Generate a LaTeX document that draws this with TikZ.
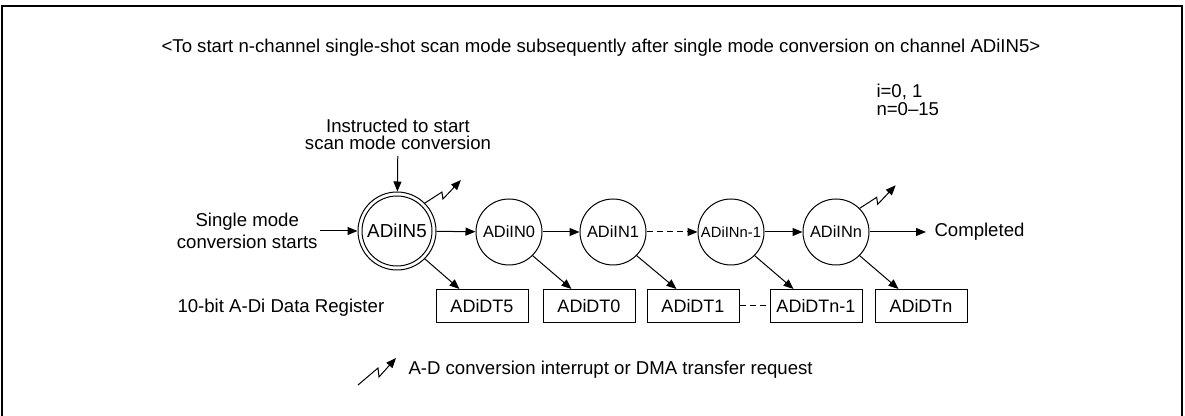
\documentclass[tikz,border=0pt]{standalone}
\usepackage{fontspec}
\setmainfont{Liberation Sans}
\usetikzlibrary{arrows.meta}

\tikzset{
  stage/.style={circle, draw, minimum size=33pt, inner sep=0pt, font=\fontsize{8.2}{9}\selectfont},
  ring/.style={circle, draw, minimum size=39pt, inner sep=0pt},
  regbox/.style={draw, minimum width=46pt, minimum height=16.5pt, inner sep=0pt, font=\fontsize{9}{10}\selectfont},
  flow/.style={-{Triangle[length=5pt,width=4pt]}},
  irq/.style={-{Triangle[length=5pt,width=4pt]}},
  txt/.style={font=\fontsize{9.3}{8.6}\selectfont, inner sep=1pt}
}

\begin{document}
\begin{tikzpicture}[x=0.5pt, y=-0.5pt, line width=0.5pt]
  \useasboundingbox (0,0) rectangle (1185,416);
  % frame
  \draw[line width=0.8pt] (2,416) -- (2,6) -- (1182,6) -- (1182,416);

  % headings
  \node[txt] (title) at (601,48) {<To start n-channel single-shot scan mode subsequently after single mode conversion on channel ADiIN5>};
  \node[txt, anchor=north west, align=left] (param) at (874,82) {i=0, 1\\n=0--15};

  % channel circles
  \node[stage, minimum size=35pt, font=\fontsize{9.4}{10}\selectfont] (n5) at (397,231) {ADiIN5};
  \node[ring] (n5o) at (397,231) {};
  \node[stage] (n0) at (509,232) {ADiIN0};
  \node[stage] (n1) at (613,232) {ADiIN1};
  \node[stage, font=\fontsize{7.4}{8}\selectfont] (nm) at (731,232) {ADiINn-1};
  \node[stage] (nn) at (836,232) {ADiINn};

  % data registers
  \node[regbox] (d5) at (482,306) {ADiDT5};
  \node[regbox] (d0) at (589,306) {ADiDT0};
  \node[regbox] (d1) at (693,306) {ADiDT1};
  \node[regbox] (dm) at (816,306) {ADiDTn-1};
  \node[regbox] (dn) at (921,306) {ADiDTn};

  % texts round the chain
  \node[txt, align=center, font=\fontsize{9.3}{11}\selectfont, anchor=east] (start) at (320,231) {Single mode\\conversion starts};
  \node[txt, align=center, font=\fontsize{9.3}{8.2}\selectfont, anchor=south] (instr) at (398,152) {Instructed to start\\scan mode conversion};
  \node[txt, anchor=west] (done) at (932,232) {Completed};
  \node[txt, anchor=west] (reglabel) at (175,308) {10-bit A-Di Data Register};

  % chain
  \draw[flow] (start) -- (n5o);
  \draw[flow, shorten <=2pt] (instr) -- (n5o);
  \draw[flow] (n5o) -- (n0);
  \draw[flow] (n0) -- (n1);
  \draw[flow, dashed, dash pattern=on 3pt off 2pt] (n1) -- (nm);
  \draw[flow] (nm) -- (nn);
  \draw[flow, shorten >=3pt] (nn) -- (done);

  % stores
  \draw[flow] (n5o.-45) -- ([xshift=12pt]d5.north west);
  \draw[flow] (n0.-45) -- ([xshift=14.5pt]d0.north west);
  \draw[flow] (n1.-45) -- ([xshift=15pt]d1.north west);
  \draw[flow] (nm.-45) -- ([xshift=12pt]dm.north west);
  \draw[flow] (nn.-45) -- ([xshift=12pt]dn.north west);
  \draw[dashed, dash pattern=on 3pt off 2pt] (d1) -- (dm);

  % interrupt requests
  \draw[irq] (n5o.45) -- ++(17,-11) -- ++(1,7) -- ++(18,-19);
  \draw[irq] (nn.45) -- ++(17,-11) -- ++(1,7) -- ++(18,-19);

  % legend
  \coordinate (irqkey) at (358,385);
  \draw[irq] (irqkey) -- ++(20,-17) -- ++(1,9) -- ++(17,-19);
  \node[txt, anchor=west] (irqtxt) at (406,370) {A-D conversion interrupt or DMA transfer request};
\end{tikzpicture}
\end{document}
